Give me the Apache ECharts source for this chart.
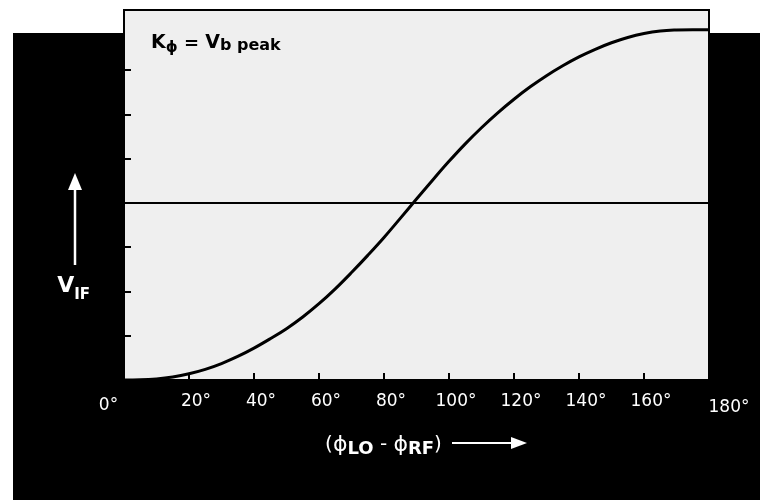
<!DOCTYPE html>
<html>
<head>
<meta charset="utf-8">
<script src="https://cdn.jsdelivr.net/npm/echarts@6/dist/echarts.min.js"></script>
<style>
html,body{margin:0;padding:0;background:#ffffff;}
#chart{width:760px;height:502px;}
</style>
</head>
<body>
<div id="chart"></div>
<script>
// Phase difference (degrees) and normalized IF voltage
const phaseDeg = [0, 5, 10, 15, 20, 25, 30, 35, 40, 45, 50, 55, 60, 65, 70, 75, 80, 85, 90,
  95, 100, 105, 110, 115, 120, 125, 130, 135, 140, 145, 150, 155, 160, 165, 170, 175, 180];
const vIF = [-1.0, -0.999, -0.994, -0.983, -0.965, -0.940, -0.907, -0.867, -0.820, -0.767,
  -0.710, -0.644, -0.569, -0.485, -0.393, -0.296, -0.195, -0.087, 0.022, 0.130, 0.235,
  0.334, 0.425, 0.509, 0.586, 0.656, 0.719, 0.775, 0.825, 0.868, 0.905, 0.935, 0.957,
  0.971, 0.977, 0.979, 0.979];

const xTickValues = [0, 20, 40, 60, 80, 100, 120, 140, 160, 180];
const xTickLabels = ['0°', '20°', '40°', '60°', '80°', '100°', '120°', '140°', '160°', '180°'];
const yTickValues = [-0.75, -0.5, -0.25, 0.25, 0.5, 0.75];
const zeroLevel = 0;

const titleText = '{k|K}{f|ϕ}{e| = }{v|V}{s|b peak}';
const xName = '{p|(}{f|ϕ}{s|LO}{p| - }{f|ϕ}{s|RF}{p|)}';
const yName = '{v|V}{s|IF}';

const chart = echarts.init(document.getElementById('chart'));

const F = 'DejaVu Sans, Liberation Sans, Arial, sans-serif';

const option = {
  backgroundColor: '#ffffff',
  animation: false,
  title: {
    text: titleText,
    left: 146,
    top: 29,
    textStyle: {
      rich: {
        k: {fontSize: 19, fontWeight: 'bold', color: '#000', fontFamily: F, verticalAlign: 'bottom', padding: [0, 0, 3, 0]},
        f: {fontSize: 15, color: '#000', fontFamily: F, verticalAlign: 'bottom'},
        e: {fontSize: 18, fontWeight: 'bold', color: '#000', fontFamily: F, verticalAlign: 'bottom', padding: [0, 0, 3, 0]},
        v: {fontSize: 19, fontWeight: 'bold', color: '#000', fontFamily: F, verticalAlign: 'bottom', padding: [0, 0, 3, 0]},
        s: {fontSize: 16, fontWeight: 'bold', color: '#000', fontFamily: F, verticalAlign: 'bottom', padding: [0, 0, 2, 0]}
      }
    }
  },
  grid: {
    left: 124, right: 51, top: 10, bottom: 122,
    show: true,
    backgroundColor: '#efefef',
    borderColor: '#000',
    borderWidth: 2
  },
  graphic: [
    {type: 'rect', z: -10, shape: {x: 13, y: 33, width: 747, height: 467}, style: {fill: '#000'}},
    {type: 'line', z: 5, shape: {x1: 75, y1: 187, x2: 75, y2: 265}, style: {stroke: '#fff', lineWidth: 2.5}},
    {type: 'polygon', z: 5, shape: {points: [[68, 190], [75, 173], [82, 190]]}, style: {fill: '#fff'}},
    {type: 'line', z: 5, shape: {x1: 452, y1: 443, x2: 514, y2: 443}, style: {stroke: '#fff', lineWidth: 2}},
    {type: 'polygon', z: 5, shape: {points: [[511, 437], [527, 443], [511, 449]]}, style: {fill: '#fff'}}
  ],
  xAxis: {
    type: 'value',
    min: 0, max: 180, interval: 20,
    name: xName,
    nameLocation: 'middle',
    nameGap: 54,
    nameTextStyle: {
      padding: [0, 66, 0, 0],
      rich: {
        p: {fontSize: 20, color: '#fff', fontFamily: F, verticalAlign: 'bottom', padding: [0, 0, 3, 0]},
        f: {fontSize: 22, color: '#fff', fontFamily: F, verticalAlign: 'bottom', padding: [0, 0, 2, 0]},
        s: {fontSize: 18, fontWeight: 'bold', color: '#fff', fontFamily: F, verticalAlign: 'bottom'}
      }
    },
    axisLine: {show: true, onZero: false, lineStyle: {color: '#000', width: 2}},
    axisTick: {show: true, inside: true, length: 7, lineStyle: {color: '#000', width: 2}},
    splitLine: {show: false},
    axisLabel: {
      color: '#fff',
      fontSize: 17,
      fontFamily: F,
      margin: 13,
      showMinLabel: true,
      showMaxLabel: true,
      formatter: function (v) {
        const i = xTickValues.indexOf(v);
        const t = i >= 0 ? xTickLabels[i] : '';
        if (i === 0) return '{a|' + t + '}';
        if (i === xTickValues.length - 1) return '{c|' + t + '}';
        return '{b|' + t + '}';
      },
      rich: {
        a: {color: '#fff', fontSize: 17, fontFamily: F, padding: [4, 31, 0, 0]},
        b: {color: '#fff', fontSize: 17, fontFamily: F, padding: [0, 0, 0, 14]},
        c: {color: '#fff', fontSize: 17, fontFamily: F, padding: [6, 0, 0, 40]}
      }
    }
  },
  yAxis: {
    type: 'value',
    min: -1, max: 1.09, interval: 0.25,
    name: yName,
    nameLocation: 'middle',
    nameRotate: 0,
    nameGap: 34,
    nameTextStyle: {
      padding: [188, 0, 0, 0],
      rich: {
        v: {fontSize: 22, fontWeight: 'bold', color: '#fff', fontFamily: F, verticalAlign: 'bottom', padding: [0, 0, 5, 0]},
        s: {fontSize: 15, fontWeight: 'bold', color: '#fff', fontFamily: F, verticalAlign: 'bottom'}
      }
    },
    axisLine: {show: true, onZero: false, lineStyle: {color: '#000', width: 2}},
    axisTick: {show: true, inside: true, length: 7, customValues: yTickValues, lineStyle: {color: '#000', width: 2}},
    axisLabel: {show: false},
    splitLine: {show: false}
  },
  series: [{
    type: 'line',
    data: phaseDeg.map((d, i) => [d, vIF[i]]),
    smooth: 0.4,
    showSymbol: false,
    symbol: 'none',
    lineStyle: {color: '#000', width: 3},
    markLine: {
      silent: true,
      symbol: ['none', 'none'],
      label: {show: false},
      lineStyle: {color: '#000', width: 2, type: 'solid'},
      data: [{yAxis: zeroLevel}]
    }
  }]
};

chart.setOption(option);
</script>
</body>
</html>
